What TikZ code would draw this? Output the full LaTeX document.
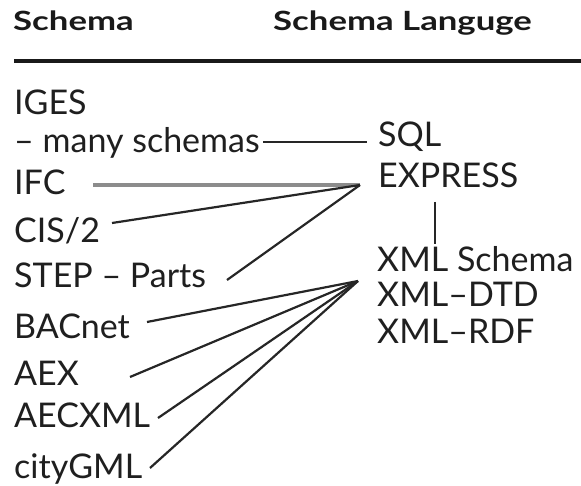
\documentclass[tikz,border=0pt]{standalone}
\usepackage{fontspec}
\setmainfont{Lato}
\begin{document}
\begin{tikzpicture}[x=1pt,y=-1pt,
  lbl/.style={anchor=base west,inner sep=0pt,text=black!88,font=\fontsize{34}{40}\selectfont},
  hdr/.style={anchor=base west,inner sep=0pt,text=black!90,font=\bfseries\fontsize{26.5}{30}\selectfont},
  link/.style={line width=2.2pt,black!85},
  glink/.style={line width=3.6pt,black!45}]
\useasboundingbox (0,0) rectangle (581,486);
\fill[white] (0,0) rectangle (581,486);
% header
\node[hdr] (h1) at (13,31) {\scalebox{1.31}[1]{Schema}};
\node[hdr] (h2) at (273,31) {\scalebox{1.31}[1]{Schema Languge}};
\coordinate (rulel) at (14,61);
\coordinate (ruler) at (581,61);
\draw[line width=4.5pt,black!90] (rulel) -- (ruler);
% left column
\node[lbl] (iges) at (14,115) {IGES};
\node[lbl] (many) at (14,153) {– many schemas};
\node[lbl] (ifc) at (14,195) {IFC};
\node[lbl] (cis) at (14,243) {CIS/2};
\node[lbl] (step) at (14,288) {STEP – Parts};
\node[lbl] (bac) at (14,338) {BACnet};
\node[lbl] (aex) at (14,385) {AEX};
\node[lbl] (aec) at (14,427) {AECXML};
\node[lbl] (city) at (14,478) {cityGML};
% right column
\node[lbl] (sql) at (378,147) {SQL};
\node[lbl] (express) at (378,188) {EXPRESS};
\node[lbl] (xsd) at (377,272) {XML Schema};
\node[lbl] (dtd) at (377,307) {XML–DTD};
\node[lbl] (rdf) at (377,343) {XML–RDF};
% connector ends
\coordinate (manyE) at (263,142);
\coordinate (sqlW) at (367,142);
\coordinate (ifcE) at (93,185);
\coordinate (cisE) at (112,223);
\coordinate (stepE) at (227,280);
\coordinate (expW) at (360,185);
\coordinate (bacE) at (147,322);
\coordinate (aexE) at (130,377);
\coordinate (aecE) at (158,418);
\coordinate (cityE) at (150,468);
\coordinate (xmlW) at (358,281);
\coordinate (expS) at (435,202);
\coordinate (xsdN) at (435,244);
% connectors
\draw[link] (manyE) -- (sqlW);
\draw[glink] (ifcE) -- (expW);
\draw[link] (cisE) -- (expW);
\draw[link] (stepE) -- (expW);
\draw[link] (bacE) -- (xmlW);
\draw[link] (aexE) -- (xmlW);
\draw[link] (aecE) -- (xmlW);
\draw[link] (cityE) -- (xmlW);
\draw[link] (expS) -- (xsdN);
\end{tikzpicture}
\end{document}
